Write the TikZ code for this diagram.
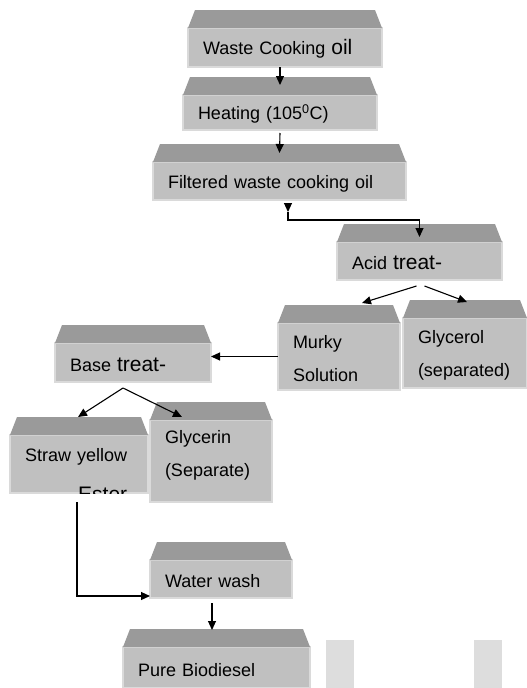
\documentclass[tikz,border=0pt]{standalone}
\usepackage{fontspec}
\setmainfont{Liberation Sans}
\usetikzlibrary{arrows.meta}
\definecolor{topgray}{HTML}{9A9A9A}
\definecolor{frontgray}{HTML}{C0C0C0}
\definecolor{rimgray}{HTML}{DADADA}
\definecolor{ghostgray}{HTML}{DDDDDD}
\newcommand{\bigword}{\fontsize{21}{24}\selectfont}
\begin{document}
\begin{tikzpicture}[x=1pt,y=-1pt,
    slab/.style={anchor=north west,fill=frontgray,draw=rimgray,line width=1.2pt,outer sep=0pt,
      inner xsep=15pt,inner ysep=0pt,align=left,text height=18pt,font=\fontsize{18}{33}\selectfont},
    arr/.style={-{Triangle[length=9pt,width=8pt]},line width=1.1pt}]
    \useasboundingbox (0,0) rectangle (527,688);
    \node[slab,text width=164pt,minimum height=39pt] (waste) at (188,28) {Waste Cooking {\bigword oil}};
    \node[slab,text width=164pt,minimum height=35pt] (heat) at (183,95) {Heating (105\textsuperscript{0}C)};
    \node[slab,text width=223pt,minimum height=38pt] (filt) at (153,162) {Filtered waste cooking oil};
    \node[slab,text width=135pt,minimum height=38pt] (acid) at (337,242) {Acid {\bigword treat-}};
    \node[slab,text width=92pt,minimum height=67pt] (murky) at (278,323) {Murky\\Solution};
    \node[slab,text width=94pt,minimum height=70pt] (glyc) at (403,318) {Glycerol\\(separated)};
    \node[slab,text width=126pt,minimum height=39pt] (base) at (55,343) {Base {\bigword treat-}};
    \node[slab,text width=108pt,minimum height=58pt,text depth=24pt] (straw) at (10,435) {Straw yellow};
    \node[slab,text width=92pt,minimum height=82pt,text depth=53pt] (glyn) at (150,420) {Glycerin\\(Separate)};
    \node[slab,text width=112pt,minimum height=38pt] (wash) at (150,560) {Water wash};
    \node[slab,text width=157pt,minimum height=41pt] (pure) at (123,647) {Pure Biodiesel};
    \begin{scope}
        \clip (straw.north west) rectangle (straw.south east);
        \node[anchor=base west,inner sep=0pt,font=\bigword] (ester) at ([shift={(68,8)}]straw.south west) {Ester};
    \end{scope}
    \foreach \b in {waste,heat,filt,acid,murky,glyc,base,straw,glyn,wash,pure}
        \fill[topgray] (\b.north west) -- ++(7,-18) -- ([shift={(-7,-18)}]\b.north east) -- (\b.north east) -- cycle;
    \fill[ghostgray] (326,640) rectangle (354,688);
    \fill[ghostgray] (474,640) rectangle (502,688);
    \coordinate (k) at (288,220);
    \draw[arr] ([xshift=-5pt]waste.south) -- ([yshift=10pt]heat.north);
    \draw[arr] ([yshift=-3pt]heat.south) -- ([yshift=9pt]filt.north);
    \draw[arr] ([yshift=-4pt]filt.south -| k) -- ([yshift=8pt]k);
    \draw[arr] ([yshift=8pt]k) -- (k) -| ([yshift=5pt]acid.north);
    \draw[arr] ([shift={(-3,6)}]acid.south) -- ([shift={(23,-20)}]murky.north);
    \draw[arr] ([shift={(5,6)}]acid.south) -- ([shift={(2,-16)}]glyc.north);
    \draw[arr] (murky.west) -- (murky.west -| base.east);
    \draw[arr] ([shift={(-10,6)}]base.south) -- ([shift={(-1,-18)}]straw.north);
    \draw[arr] ([shift={(-10,6)}]base.south) -- ([shift={(-29,-3)}]glyn.north);
    \draw[arr] ([shift={(-2,9)}]straw.south) |- ([shift={(0,-2)}]wash.south west);
    \draw[arr] ([shift={(-9,5)}]wash.south) -- ([xshift=-9pt,yshift=17pt]wash.south |- pure.north);
\end{tikzpicture}
\end{document}
